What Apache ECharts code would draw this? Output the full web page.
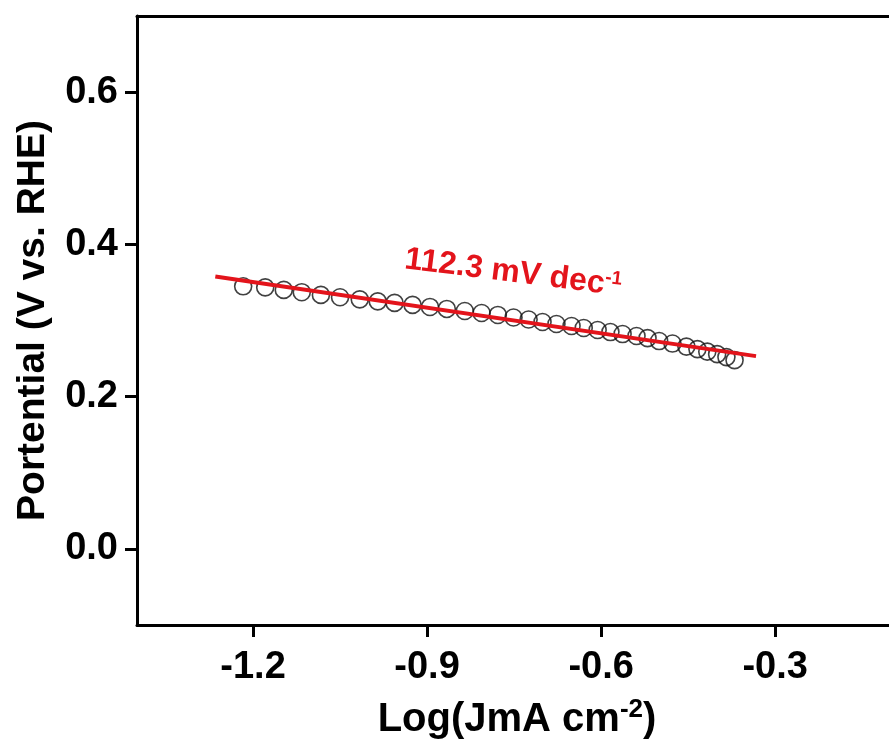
<!DOCTYPE html>
<html>
<head>
<meta charset="utf-8">
<script src="https://cdn.jsdelivr.net/npm/echarts@6/dist/echarts.min.js"></script>
<style>
  html, body { margin: 0; padding: 0; background: #fff; overflow: hidden; }
  #chart { width: 889px; height: 742px; }
</style>
</head>
<body>
<div id="chart"></div>
<script>
// Tafel data: log current density (mA cm^-2) vs. potential (V vs. RHE)
const logJ = [-1.217, -1.179, -1.147, -1.116, -1.083, -1.050, -1.016, -0.985, -0.956, -0.925,
              -0.895, -0.866, -0.835, -0.806, -0.778, -0.751, -0.725, -0.701, -0.677, -0.651,
              -0.630, -0.606, -0.584, -0.563, -0.539, -0.520, -0.500, -0.477, -0.453, -0.434,
              -0.417, -0.400, -0.384, -0.370];
const potential = [0.3449, 0.3435, 0.3402, 0.3372, 0.3336, 0.3306, 0.3277, 0.3251, 0.3231, 0.3205,
                   0.3178, 0.3152, 0.3125, 0.3099, 0.3073, 0.3040, 0.3013, 0.2980, 0.2954, 0.2928,
                   0.2901, 0.2875, 0.2848, 0.2822, 0.2796, 0.2769, 0.2730, 0.2697, 0.2657, 0.2624,
                   0.2591, 0.2558, 0.2519, 0.2479];

// Linear Tafel fit, end points
const fitX = [-1.265, -0.333];
const fitY = [0.3578, 0.2532];

// Tick positions
const xTicks = [-1.2, -0.9, -0.6, -0.3];
const yTicks = [0.0, 0.2, 0.4, 0.6];

const FONT = '"Liberation Sans", Arial, sans-serif';
const RED = '#e3141b';

const chart = echarts.init(document.getElementById('chart'), null, { renderer: 'canvas' });

const axisLine = { show: true, onZero: false, lineStyle: { color: '#000', width: 3 } };

chart.setOption({
  backgroundColor: '#fff',
  animation: false,
  grid: { show: false, left: 137, top: 16, right: -8, bottom: 117, containLabel: false, outerBoundsMode: 'none' },
  xAxis: [
    {
      type: 'value', position: 'bottom', min: -1.4, max: -0.09,
      axisLine: axisLine,
      axisTick: { show: true, inside: false, length: 12, lineStyle: { width: 3, color: '#000' }, customValues: xTicks },
      axisLabel: {
        customValues: xTicks, margin: 24,
        color: '#000', fontFamily: FONT, fontWeight: 'bold', fontSize: 38,
        formatter: v => v.toFixed(1)
      },
      splitLine: { show: false },
      name: '{t|Log(JmA cm}{s|-2}{t|)}',
      nameLocation: 'middle', nameGap: 72,
      nameTextStyle: {
        rich: {
          t: { fontFamily: FONT, fontWeight: 'bold', fontSize: 40, color: '#000' },
          s: { fontFamily: FONT, fontWeight: 'bold', fontSize: 26, color: '#000', verticalAlign: 'top', padding: [0, 0, 20, 0] }
        }
      }
    },
    {
      type: 'value', position: 'top', min: -1.4, max: -0.09,
      axisLine: axisLine, axisTick: { show: false }, axisLabel: { show: false }, splitLine: { show: false }
    }
  ],
  yAxis: [
    {
      type: 'value', position: 'left', min: -0.1, max: 0.7,
      axisLine: axisLine,
      axisTick: { show: true, inside: false, length: 12, lineStyle: { width: 3, color: '#000' }, customValues: yTicks },
      axisLabel: {
        customValues: yTicks, margin: 19,
        color: '#000', fontFamily: FONT, fontWeight: 'bold', fontSize: 38,
        formatter: v => v.toFixed(1)
      },
      splitLine: { show: false },
      name: 'Portential (V vs. RHE)',
      nameLocation: 'middle', nameGap: 84, nameRotate: 90,
      nameTextStyle: { fontFamily: FONT, fontWeight: 'bold', fontSize: 39, color: '#000' }
    }
  ],
  series: [
    {
      name: 'data', type: 'scatter',
      data: logJ.map((x, i) => [x, potential[i]]),
      symbol: 'circle', symbolSize: 17,
      itemStyle: { color: 'rgba(0,0,0,0)', borderColor: '#111', borderWidth: 1.6 },
      z: 2
    },
    {
      name: 'fit', type: 'line',
      data: fitX.map((x, i) => [x, fitY[i]]),
      showSymbol: false, symbol: 'none',
      lineStyle: { color: RED, width: 4 },
      z: 3
    }
  ],
  graphic: [
    {
      type: 'text',
      x: 407, y: 243,
      rotation: -0.125,
      style: {
        text: '{a|112.3 mV dec}{b|-1}',
        rich: {
          a: { fontFamily: FONT, fontWeight: 'bold', fontSize: 32, fill: RED },
          b: { fontFamily: FONT, fontWeight: 'bold', fontSize: 19, fill: RED, verticalAlign: 'top', padding: [0, 0, 14, 0] }
        }
      },
      z: 10
    }
  ]
});
</script>
</body>
</html>
